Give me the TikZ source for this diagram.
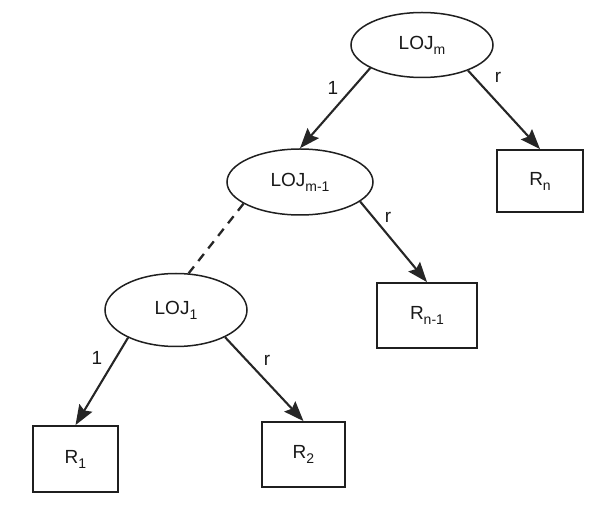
\documentclass[tikz,border=0pt]{standalone}
\usepackage{fontspec}
\setmainfont{Liberation Sans}
\usetikzlibrary{shapes.geometric,arrows.meta}
\newcommand{\lsub}[1]{\raisebox{-5pt}{\fontsize{14}{14}\selectfont #1}}
\begin{document}
\begin{tikzpicture}[x=1pt,y=-1pt,
  every node/.style={font=\fontsize{19}{21}\selectfont, text=black!90},
  joinnode/.style={ellipse, draw=black!88, line width=1.5pt, inner sep=0pt},
  relbox/.style={rectangle, draw=black!88, line width=1.8pt, inner sep=0pt},
  edgearrow/.style={draw=black!85, line width=2.1pt, -{Stealth[length=20pt,width=15pt,inset=3pt]}},
  edgedash/.style={draw=black!85, line width=2.3pt, dash pattern=on 9pt off 7pt},
  edgelabel/.style={inner sep=0pt}]
\useasboundingbox (0,0) rectangle (595,510);
% join nodes
\node[joinnode, minimum width=142pt, minimum height=65pt] (m) at (422,45) {LOJ\lsub{m}};
\node[joinnode, minimum width=146pt, minimum height=66pt] (m1) at (300,182) {LOJ\lsub{m-1}};
\node[joinnode, minimum width=142pt, minimum height=73pt] (l1) at (176,310) {LOJ\lsub{1}};
% relations
\node[relbox, minimum width=86pt, minimum height=62pt] (rn) at (540,181) {R\lsub{n}};
\node[relbox, minimum width=100pt, minimum height=65pt] (rn1) at (427,315.5) {R\lsub{n-1}};
\node[relbox, minimum width=85pt, minimum height=66pt] (r1) at (75.5,459) {R\lsub{1}};
\node[relbox, minimum width=83pt, minimum height=65pt] (r2) at (303.5,454.5) {R\lsub{2}};
% edges
\draw[edgearrow] (m.204.7) -- (m1.north);
\draw[edgearrow] (m.331.9) -- (rn.north);
\draw[edgearrow] (m1.342) -- (rn1.north);
\draw[edgedash] (m1.201) -- (l1.71);
\draw[edgearrow] (l1.210.5) -- (r1.north);
\draw[edgearrow] (l1.331) -- (r2.north);
% labels
\node[edgelabel] (lab1) at (333,88) {1};
\node[edgelabel] (labr1) at (498,77) {r};
\node[edgelabel] (labr2) at (388,217) {r};
\node[edgelabel] (lab2) at (97,358) {1};
\node[edgelabel] (labr3) at (267,360) {r};
\end{tikzpicture}
\end{document}
